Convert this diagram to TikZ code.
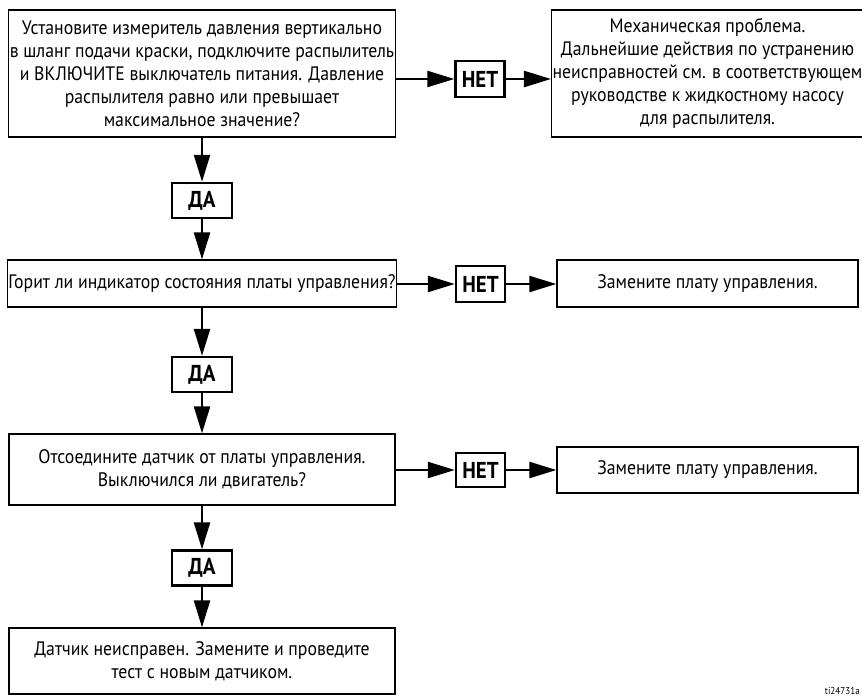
\documentclass[tikz,border=0pt]{standalone}
\usepackage{fontspec}
\setmainfont{PT Sans}[FakeStretch=0.91]
\usetikzlibrary{arrows.meta,positioning}

\begin{document}
\begin{tikzpicture}[x=1pt, y=-1pt,
  qbox/.style={draw, line width=1.3pt, inner sep=1pt, align=center,
               font=\fontsize{19.5}{23}\selectfont},
  ansbox/.style={draw, line width=2.4pt, inner sep=0pt, minimum width=60pt,
                 minimum height=35pt, font=\bfseries\fontsize{23}{25}\selectfont},
  arr/.style={-{Triangle[length=27pt, width=16pt]}, line width=2.4pt}
]
  \useasboundingbox (0,0) rectangle (862,697);

  % questions on the left
  \node[qbox, minimum width=386pt, minimum height=127pt] (q1) at (202,73.5)
    {Установите измеритель давления вертикально\\
     в шланг подачи краски, подключите распылитель\\
     и ВКЛЮЧИТЕ выключатель питания. Давление\\
     распылителя равно или превышает\\
     максимальное значение?};
  \node[qbox, minimum width=386pt, minimum height=47pt] (q2) at (202,283.5)
    {Горит ли индикатор состояния платы управления?};
  \node[qbox, minimum width=386pt, minimum height=71pt] (q3) at (202,469.5)
    {Отсоедините датчик от платы управления.\\ Выключился ли двигатель?};
  \node[qbox, minimum width=386pt, minimum height=66pt] (q4) at (202,661)
    {Датчик неисправен. Замените и проведите\\ тест с новым датчиком.};

  % answers on the right
  \node[qbox, minimum width=301pt, minimum height=127pt] (r1) at (707.5,73.5)
    {Механическая проблема.\\
     Дальнейшие действия по устранению\\
     неисправностей см. в соответствующем\\
     руководстве к жидкостному насосу\\
     для распылителя.};
  \node[qbox, minimum width=301pt, minimum height=47pt] (r2) at (707.5,283.5)
    {Замените плату управления.};
  \node[qbox, minimum width=301pt, minimum height=46pt] (r3) at (707.5,470)
    {Замените плату управления.};

  % yes / no labels
  \node[ansbox, minimum width=49pt, minimum height=36pt] (n1) at (480,79) {НЕТ};
  \node[ansbox, minimum width=49pt, minimum height=36pt] (n2) at (480.5,284) {НЕТ};
  \node[ansbox, minimum width=49pt, minimum height=34pt] (n3) at (480.5,470) {НЕТ};
  \node[ansbox] (y1) at (202,200.5) {ДА};
  \node[ansbox] (y2) at (202,374.5) {ДА};
  \node[ansbox] (y3) at (202,568) {ДА};

  \draw[arr] (q1.east |- n1) -- (n1.west);
  \draw[arr] (n1.east) -- (r1.west |- n1);
  \draw[arr] (q2.east |- n2) -- (n2.west);
  \draw[arr] (n2.east) -- (r2.west |- n2);
  \draw[arr] (q3.east |- n3) -- (n3.west);
  \draw[arr] (n3.east) -- (r3.west |- n3);

  \draw[arr] (q1.south -| y1) -- (y1.north);
  \draw[arr] (y1.south) -- (q2.north);
  \draw[arr] (q2.south) -- (y2.north);
  \draw[arr] (y2.south) -- (q3.north);
  \draw[arr] (q3.south) -- (y3.north);
  \draw[arr] (y3.south) -- (q4.north);

  \node[font=\fontsize{10}{12}\selectfont, anchor=base east, inner sep=1pt] (tag) at (861,694) {ti24731a};
\end{tikzpicture}
\end{document}
